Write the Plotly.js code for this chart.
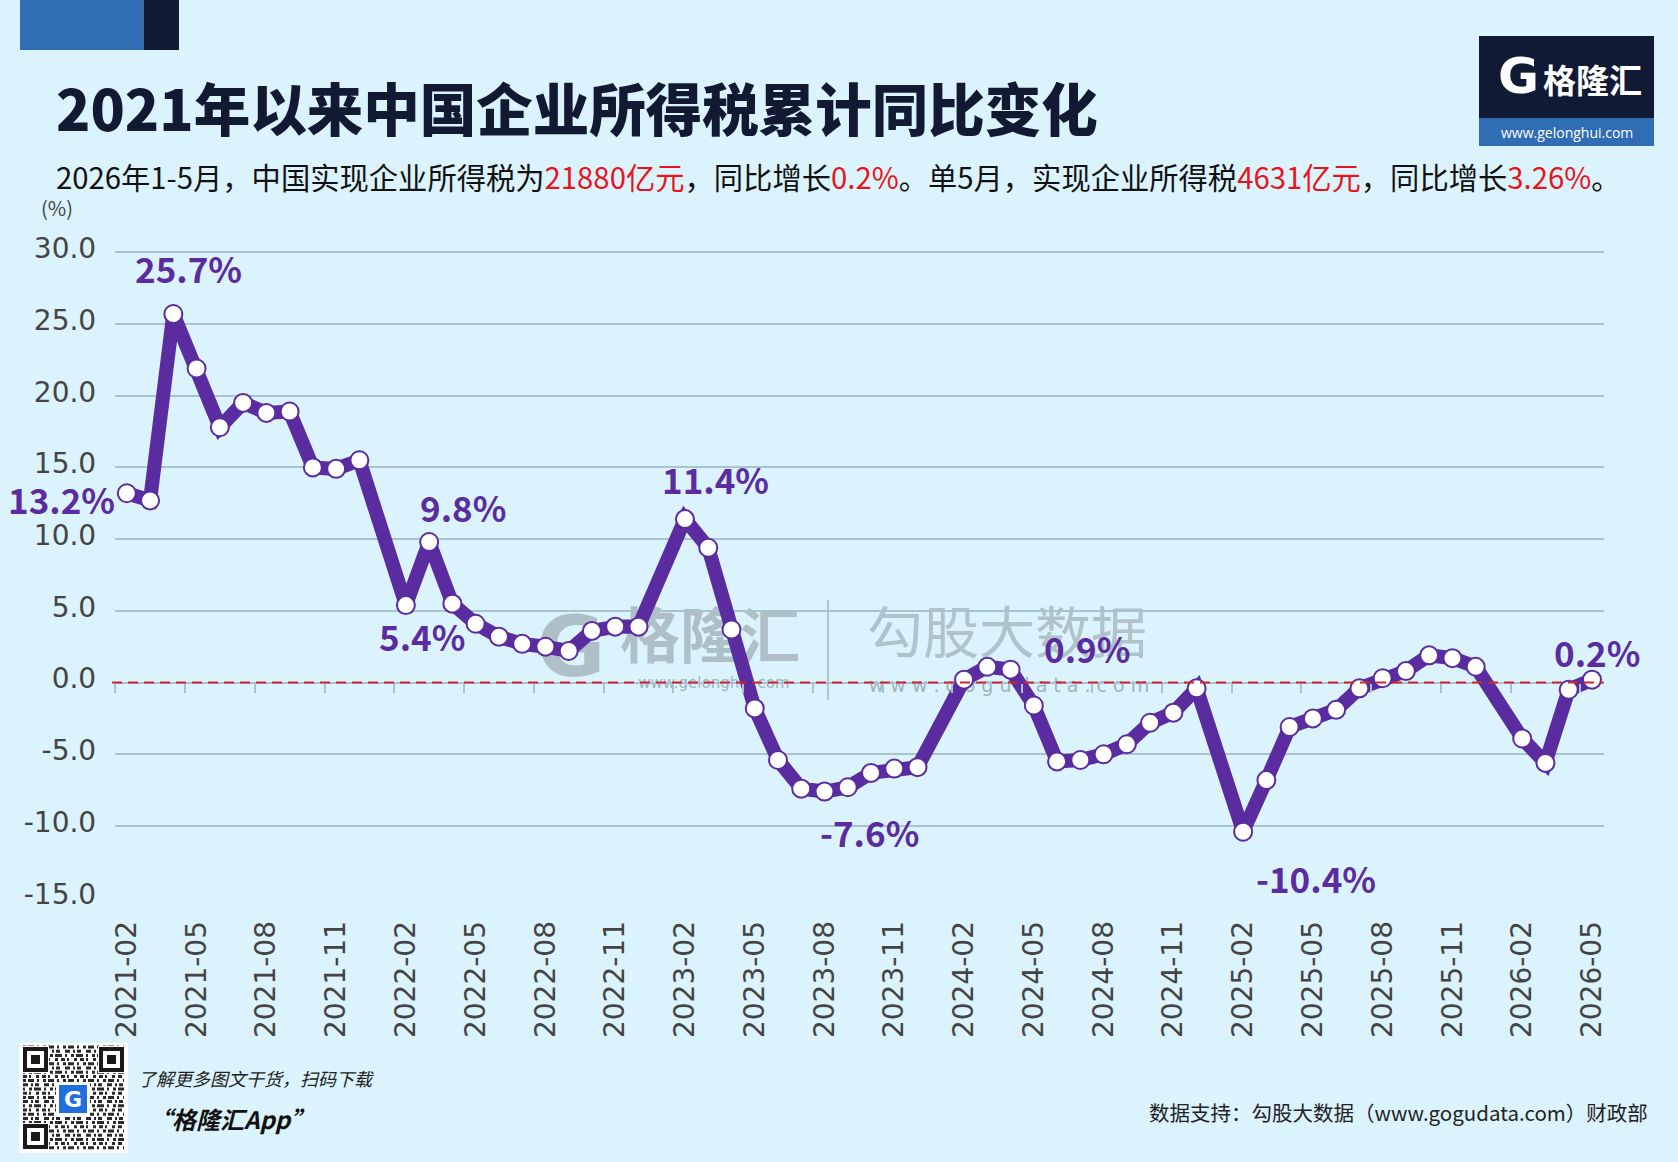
<!DOCTYPE html>
<html><head><meta charset="utf-8">
<script src="https://cdn.plot.ly/plotly-3.0.1.min.js"></script>
<style>html,body{margin:0;padding:0;background:#dbf3fd;} #chart{width:1678px;height:1162px;}</style>
</head><body><div id="chart"></div><script>
// ---------- DATA ----------
const months = [
 '2021-02','2021-03','2021-04','2021-05','2021-06','2021-07','2021-08','2021-09','2021-10','2021-11','2021-12',
 '2022-01','2022-02','2022-03','2022-04','2022-05','2022-06','2022-07','2022-08','2022-09','2022-10','2022-11','2022-12',
 '2023-01','2023-02','2023-03','2023-04','2023-05','2023-06','2023-07','2023-08','2023-09','2023-10','2023-11','2023-12',
 '2024-01','2024-02','2024-03','2024-04','2024-05','2024-06','2024-07','2024-08','2024-09','2024-10','2024-11','2024-12',
 '2025-01','2025-02','2025-03','2025-04','2025-05','2025-06','2025-07','2025-08','2025-09','2025-10','2025-11','2025-12',
 '2026-01','2026-02','2026-03','2026-04','2026-05'];
const values = [
 13.2, 12.7, 25.7, 21.9, 17.8, 19.5, 18.8, 18.9, 15.0, 14.9, 15.5,
 null, 5.4, 9.8, 5.5, 4.1, 3.2, 2.7, 2.5, 2.2, 3.6, 3.9, 3.9,
 null, 11.4, 9.4, 3.7, -1.8, -5.4, -7.4, -7.6, -7.3, -6.3, -6.0, -5.9,
 null, 0.2, 1.1, 0.9, -1.6, -5.5, -5.4, -5.0, -4.3, -2.8, -2.1, -0.4,
 null, -10.4, -6.8, -3.1, -2.5, -1.9, -0.4, 0.3, 0.8, 1.9, 1.7, 1.1,
 null, -3.9, -5.6, -0.5, 0.2];
const xTickLabels = ['2021-02','2021-05','2021-08','2021-11','2022-02','2022-05','2022-08','2022-11',
 '2023-02','2023-05','2023-08','2023-11','2024-02','2024-05','2024-08','2024-11',
 '2025-02','2025-05','2025-08','2025-11','2026-02','2026-05'];
const yTicks = [-15, -10, -5, 0, 5, 10, 15, 20, 25, 30];
const labelMonths = ['2021-02','2021-04','2022-02','2022-03','2023-02','2023-08','2024-04','2025-02','2026-05'];
const labelShift = [[-65,-5],[15,46],[16,-30],[34,36],[31,41],[45,-40],[76,22],[73,-46],[5,28]];

// ---------- LAYOUT HELPERS ----------
const W = 1678, H = 1162;
const px = x => x / W, py = y => 1 - y / H;
const PURPLE = '#5b2c9f';
const NAVY = '#111a35', BLUE = '#2f6db5';
const CJK = '"Noto Sans CJK SC", "Noto Sans", sans-serif';
const yRange = [-15.05, 30.1];
const yTopPx = 252.3, yBotPx = 897.7; // pixel rows of 30 and -15
const yScale = (yBotPx - yTopPx) / 45;
const yDom = [py(yBotPx + (-15 - yRange[0]) * yScale), py(yTopPx - (yRange[1] - 30) * yScale)];
const xDom = [px(115.2), px(1603.6)];
const zeroPos = yDom[0] + (0 - yRange[0]) / (yRange[1] - yRange[0]) * (yDom[1] - yDom[0]);

const shapes = [];
const annotations = [];
function rect(x0, y0, x1, y1, fill, extra) {
  shapes.push(Object.assign({type:'rect', xref:'paper', yref:'paper', x0:px(x0), x1:px(x1), y0:py(y1), y1:py(y0),
    fillcolor:fill, line:{width:0}, layer:'below'}, extra || {}));
}
function text(t, x, y, size, opts) {
  opts = opts || {};
  annotations.push({xref:'paper', yref:'paper', x:px(x), y:py(y), text:t, showarrow:false,
    xanchor:opts.xanchor || 'center', yanchor:'middle',
    font:{family:opts.family || CJK, size:size, color:opts.color || '#111', weight:opts.weight || 'normal', style:opts.style || 'normal'}});
}
function wmText(t, cx, cy, size, opts) {
  opts = opts || {};
  shapes.push({type:'rect', xref:'paper', yref:'paper', x0:px(cx-200), x1:px(cx+200), y0:py(cy+50), y1:py(cy-50),
    line:{width:0}, fillcolor:'rgba(0,0,0,0)', layer:'below',
    label:{text:t, textposition:'middle center', font:{family:opts.family || CJK, size:size, color:opts.color || '#a6bac4', weight:opts.weight || 'normal'}}});
}

// top-left bar
rect(20, 0, 143.5, 50, BLUE);
rect(143.5, 0, 179, 50, NAVY);
// logo top-right
rect(1479, 36, 1654, 118, NAVY);
rect(1479, 118, 1654, 146, BLUE);
text('G', 1518, 76, 50, {color:'#ffffff', weight:'bold', family:'"DejaVu Sans", sans-serif'});
text('格隆汇', 1592, 79, 33, {color:'#ffffff', weight:'bold'});
text('www.gelonghui.com', 1567, 132, 14, {color:'#ffffff', family:'"Open Sans", sans-serif'});

// watermark
wmText('G', 571, 641, 84, {weight:'bold', family:'"DejaVu Sans", sans-serif', color:'#aebfc8'});
wmText('格隆汇', 710, 641, 60, {weight:'bold', color:'#aebfc8'});
wmText('www.gelonghui.com', 714, 682, 15, {family:'"DejaVu Sans", sans-serif', color:'#9fb3bd'});
wmText('勾股大数据', 1007, 637, 56, {color:'#b0c2ca'});
wmText('w w w . g o g u d a t a . c o m', 1009, 684, 19, {family:'"DejaVu Sans", sans-serif', color:'#9fb3bd'});
shapes.push({type:'line', xref:'paper', yref:'paper', x0:px(828), x1:px(828), y0:py(700), y1:py(600),
  line:{color:'#b3c5cd', width:2}, layer:'below'});

// zero reference line
shapes.push({type:'line', xref:'paper', yref:'y', x0:px(112), x1:xDom[1], y0:0, y1:0,
  line:{color:'#d0262a', width:2, dash:'10px,6px'}, layer:'above'});

// QR code block (decorative)
rect(19, 1043, 128, 1153, '#ffffff');
const qrDash = ['3px,2px,6px,3px,2px,4px','5px,3px,2px,2px,4px,5px','2px,4px,3px,2px,7px,3px','4px,2px,2px,5px,3px,3px'];
for (let r = 0; r < 25; r++) {
  const yy = 1047 + r * 4.2;
  shapes.push({type:'line', xref:'paper', yref:'paper', x0:px(23), x1:px(124), y0:py(yy), y1:py(yy),
    line:{color:'#2a2a2a', width:3, dash:qrDash[r % 4]}, layer:'below'});
}
[[23,1047],[99,1047],[23,1124]].forEach(([x,y]) => {
  rect(x-1, y-1, x+26, y+26, '#ffffff');
  rect(x, y, x+25, y+25, '#1a1a1a');
  rect(x+4, y+4, x+21, y+21, '#ffffff');
  rect(x+8, y+8, x+17, y+17, '#1a1a1a');
});
rect(56, 1082, 90, 1116, '#ffffff');
rect(59, 1085, 87, 1113, '#1f6fe0');
text('G', 73, 1099, 22, {color:'#ffffff', weight:'bold', family:'"DejaVu Sans", sans-serif'});

// titles and texts
text('2021年以来中国企业所得税累计同比变化', 54, 106, 56.5, {xanchor:'left', weight:900, color:'#121a33'});
const R = s => '<span style="color:#e8141c">' + s + '</span>';
text('2026年1-5月，中国实现企业所得税为' + R('21880亿元') + '，同比增长' + R('0.2%') + '。单5月，实现企业所得税' + R('4631亿元') + '，同比增长' + R('3.26%') + '。',
  54, 176, 29.3, {xanchor:'left', color:'#111111'});
text('(%)', 57, 208, 20, {color:'#444444'});
text('了解更多图文干货，扫码下载', 136, 1078, 18, {xanchor:'left', style:'italic', color:'#222222'});
text('“格隆汇App”', 146, 1118, 24, {xanchor:'left', style:'italic', weight:'bold', color:'#111111'});
text('数据支持：勾股大数据（www.gogudata.com）财政部', 1650, 1112, 20.5, {xanchor:'right', color:'#222222'});

// data labels
labelMonths.forEach((m, k) => {
  const v = values[months.indexOf(m)];
  annotations.push({xref:'x', yref:'y', x:m, y:v, text:v.toFixed(1) + '%', showarrow:false,
    xshift:labelShift[k][0], yshift:labelShift[k][1], xanchor:'center', yanchor:'middle',
    font:{family:CJK, size:35, color:PURPLE, weight:'bold'}});
});

const trace = {
  x: months, y: values, type:'scatter', mode:'lines+markers', connectgaps:true, cliponaxis:false,
  line:{color:PURPLE, width:14}, marker:{size:18, color:'#ffffff', line:{color:PURPLE, width:2}},
  hoverinfo:'skip'
};
const tickTrace = {x: months, y: values, xaxis:'x2', type:'scatter', mode:'lines', line:{width:0, color:'rgba(0,0,0,0)'}, hoverinfo:'skip', showlegend:false};

const layout = {
  width:W, height:H, margin:{l:0, r:0, t:0, b:0},
  paper_bgcolor:'#dbf3fd', plot_bgcolor:'rgba(0,0,0,0)', showlegend:false,
  xaxis:{type:'category', categoryorder:'array', categoryarray:months, range:[-0.5, months.length - 0.5],
    domain:xDom, anchor:'y', tickmode:'array', tickvals:xTickLabels, ticktext:xTickLabels,
    tickangle:-90, ticks:'', showgrid:false, zeroline:false, showline:false, ticklabelstandoff:16,
    tickfont:{family:'"DejaVu Sans", sans-serif', size:28, color:'#444444'}},
  xaxis2:{type:'category', categoryorder:'array', categoryarray:months, range:[-0.5, months.length - 0.5],
    domain:xDom, overlaying:'x', anchor:'free', position:zeroPos, tickmode:'array', tickvals:xTickLabels,
    tickson:'boundaries', ticks:'outside', ticklen:9, tickwidth:2, tickcolor:'#a9c3ce',
    showticklabels:false, showgrid:false, zeroline:false, showline:false},
  yaxis:{range:yRange, domain:yDom, tickmode:'array', tickvals:yTicks, ticktext:yTicks.map(v => v.toFixed(1)),
    showgrid:true, gridcolor:'#a9c3ce', gridwidth:2, zeroline:false, showline:false, ticks:'',
    ticklabelstandoff:18, ticklabelshift:-4, tickfont:{family:'"DejaVu Sans", sans-serif', size:28, color:'#444444'}},
  shapes:shapes, annotations:annotations
};
Plotly.newPlot('chart', [tickTrace, trace], layout, {displayModeBar:false, staticPlot:true});
</script></body></html>
